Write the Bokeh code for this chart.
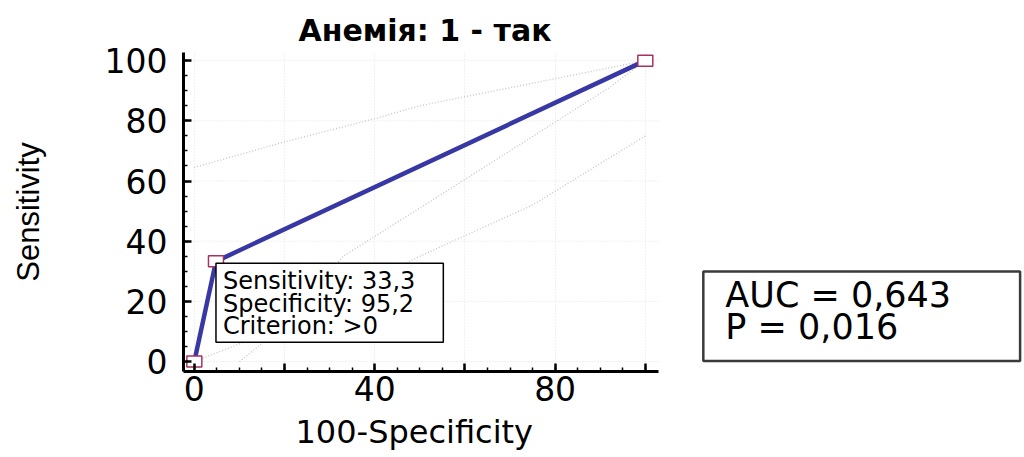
from bokeh.plotting import figure
from bokeh.models import FixedTicker, Label, Range1d, Title
from bokeh.embed import file_html
from bokeh.resources import INLINE

# ROC curve (100-Specificity vs Sensitivity)
fpr = [0, 4.8, 100]
sens = [0, 33.3, 100]

# 95% confidence bounds (faint dotted lines)
ci_upper_x = [0, 20, 40, 50, 70, 100]
ci_upper_y = [64.5, 73, 80.7, 85, 91, 100]
ci_mid_x = [10, 20, 33, 50, 92, 100]
ci_mid_y = [0, 12, 35, 51, 91, 100]
ci_low_x = [0, 17, 50, 75, 100]
ci_low_y = [0, 10, 35, 52, 75]

major_ticks = [0, 20, 40, 60, 80, 100]
minor_ticks = [0, 5, 10, 15, 20, 25, 30, 35, 40, 45, 50, 55, 60, 65, 70, 75, 80, 85, 90, 95, 100]
x_label_overrides = {20: "", 60: "", 100: ""}

title_text = "Анемія: 1 - так"
x_title = "100-Specificity"
y_title = "Sensitivity"
criterion = ">0"
auc = "0,643"
p_value = "0,016"

# axis extents (data units); the frame continues to the right for the AUC box
x_lo, x_hi = -2.4, 102.9
y_lo, y_hi = -3.3, 102.7
px_per_x = 4.51  # keep horizontal scale
frame_w = 1024 - 183
x_far = x_lo + frame_w / px_per_x


def fmt(v):
    return f"{v:.1f}".replace(".", ",")


p = figure(width=1024, height=457,
           x_range=Range1d(x_lo, x_far), y_range=Range1d(y_lo, y_hi),
           output_backend="svg", toolbar_location=None,
           min_border_left=183, min_border_right=0,
           min_border_top=52, min_border_bottom=86)
p.outline_line_color = None
p.background_fill_color = "white"
p.border_fill_color = "white"

p.title.text = title_text
p.title.text_font = "DejaVu Sans"
p.title.text_font_style = "bold"
p.title.text_font_size = "30px"
p.title.align = "left"
p.title.offset = 115
p.title.text_color = "black"

for ax in (p.xaxis[0], p.yaxis[0]):
    ax.ticker = FixedTicker(ticks=major_ticks, minor_ticks=minor_ticks)
    ax.axis_line_width = 3
    ax.axis_line_color = "black"
    ax.major_tick_in = 8
    ax.major_tick_out = 0
    ax.major_tick_line_width = 2.5
    ax.major_tick_line_color = "black"
    ax.minor_tick_in = 4
    ax.minor_tick_out = 0
    ax.minor_tick_line_width = 1.5
    ax.minor_tick_line_color = "black"
    ax.major_label_text_font = "DejaVu Sans"
    ax.major_label_text_font_size = "33px"
    ax.major_label_text_color = "black"
    ax.axis_label_text_font_style = "normal"
    ax.axis_label_text_color = "black"

p.xaxis[0].bounds = (x_lo, x_hi)
p.xaxis[0].major_label_overrides = x_label_overrides
p.xaxis[0].major_label_standoff = 4

# x-axis title placed under the axis, centred on the axis extent
xt = Title(text=x_title, align="left", offset=112, standoff=14,
           text_font="DejaVu Sans", text_font_size="32px",
           text_font_style="normal", text_color="black")
p.add_layout(xt, "below")

p.yaxis[0].major_label_standoff = 16
p.yaxis[0].axis_label = y_title
p.yaxis[0].axis_label_text_font = "Liberation Sans"
p.yaxis[0].axis_label_text_font_size = "31px"
p.yaxis[0].axis_label_standoff = 56

grid_color = "#e2e2e2"
p.xgrid[0].grid_line_color = grid_color
p.xgrid[0].grid_line_dash = "1 2"
p.xgrid[0].grid_line_width = 1
p.ygrid[0].visible = False
# horizontal grid lines limited to the axis extent
p.segment(x0=[x_lo] * len(major_ticks), x1=[x_hi] * len(major_ticks),
          y0=major_ticks, y1=major_ticks,
          line_color=grid_color, line_dash="1 2", line_width=1)

ci_color = "#c4c4c4"
p.line(ci_upper_x, ci_upper_y, line_color=ci_color, line_dash="1 2", line_width=1.3)
p.line(ci_mid_x, ci_mid_y, line_color=ci_color, line_dash="1 2", line_width=1.3)
p.line(ci_low_x, ci_low_y, line_color=ci_color, line_dash="1 2", line_width=1.3)

p.line(fpr, sens, line_color="#3838a4", line_width=4.5)
p.rect(fpr, sens, width=15, height=11, width_units="screen", height_units="screen",
       fill_color="white", line_color="#a8325f", line_width=1.5)

info = (f"Sensitivity: {fmt(sens[1])}\n"
        f"Specificity: {fmt(100 - fpr[1])}\n"
        f"Criterion: {criterion}")
lab = Label(x=fpr[1], y=sens[1], text=info, x_offset=0, y_offset=-2,
            text_align="left", text_baseline="top",
            text_font="DejaVu Sans", text_font_size="24px", text_color="black",
            text_line_height=0.8,
            background_fill_color="white", border_line_color="black",
            border_line_width=1.5,
            padding=dict(left=7, right=28, top=4, bottom=2))
p.add_layout(lab)

# AUC box to the right of the plot
auc_lab = Label(x=fpr[-1], y=sens[0], text=f"AUC = {auc}\nP = {p_value}",
                x_offset=58, y_offset=90,
                text_align="left", text_baseline="top",
                text_font="DejaVu Sans", text_font_size="35px", text_color="black",
                text_line_height=0.81,
                background_fill_color="white", border_line_color="#3a3a3a",
                border_line_width=2.5,
                padding=dict(left=22, right=69, top=3, bottom=14))
p.add_layout(auc_lab)

open("out.html", "w").write(file_html(p, INLINE))
